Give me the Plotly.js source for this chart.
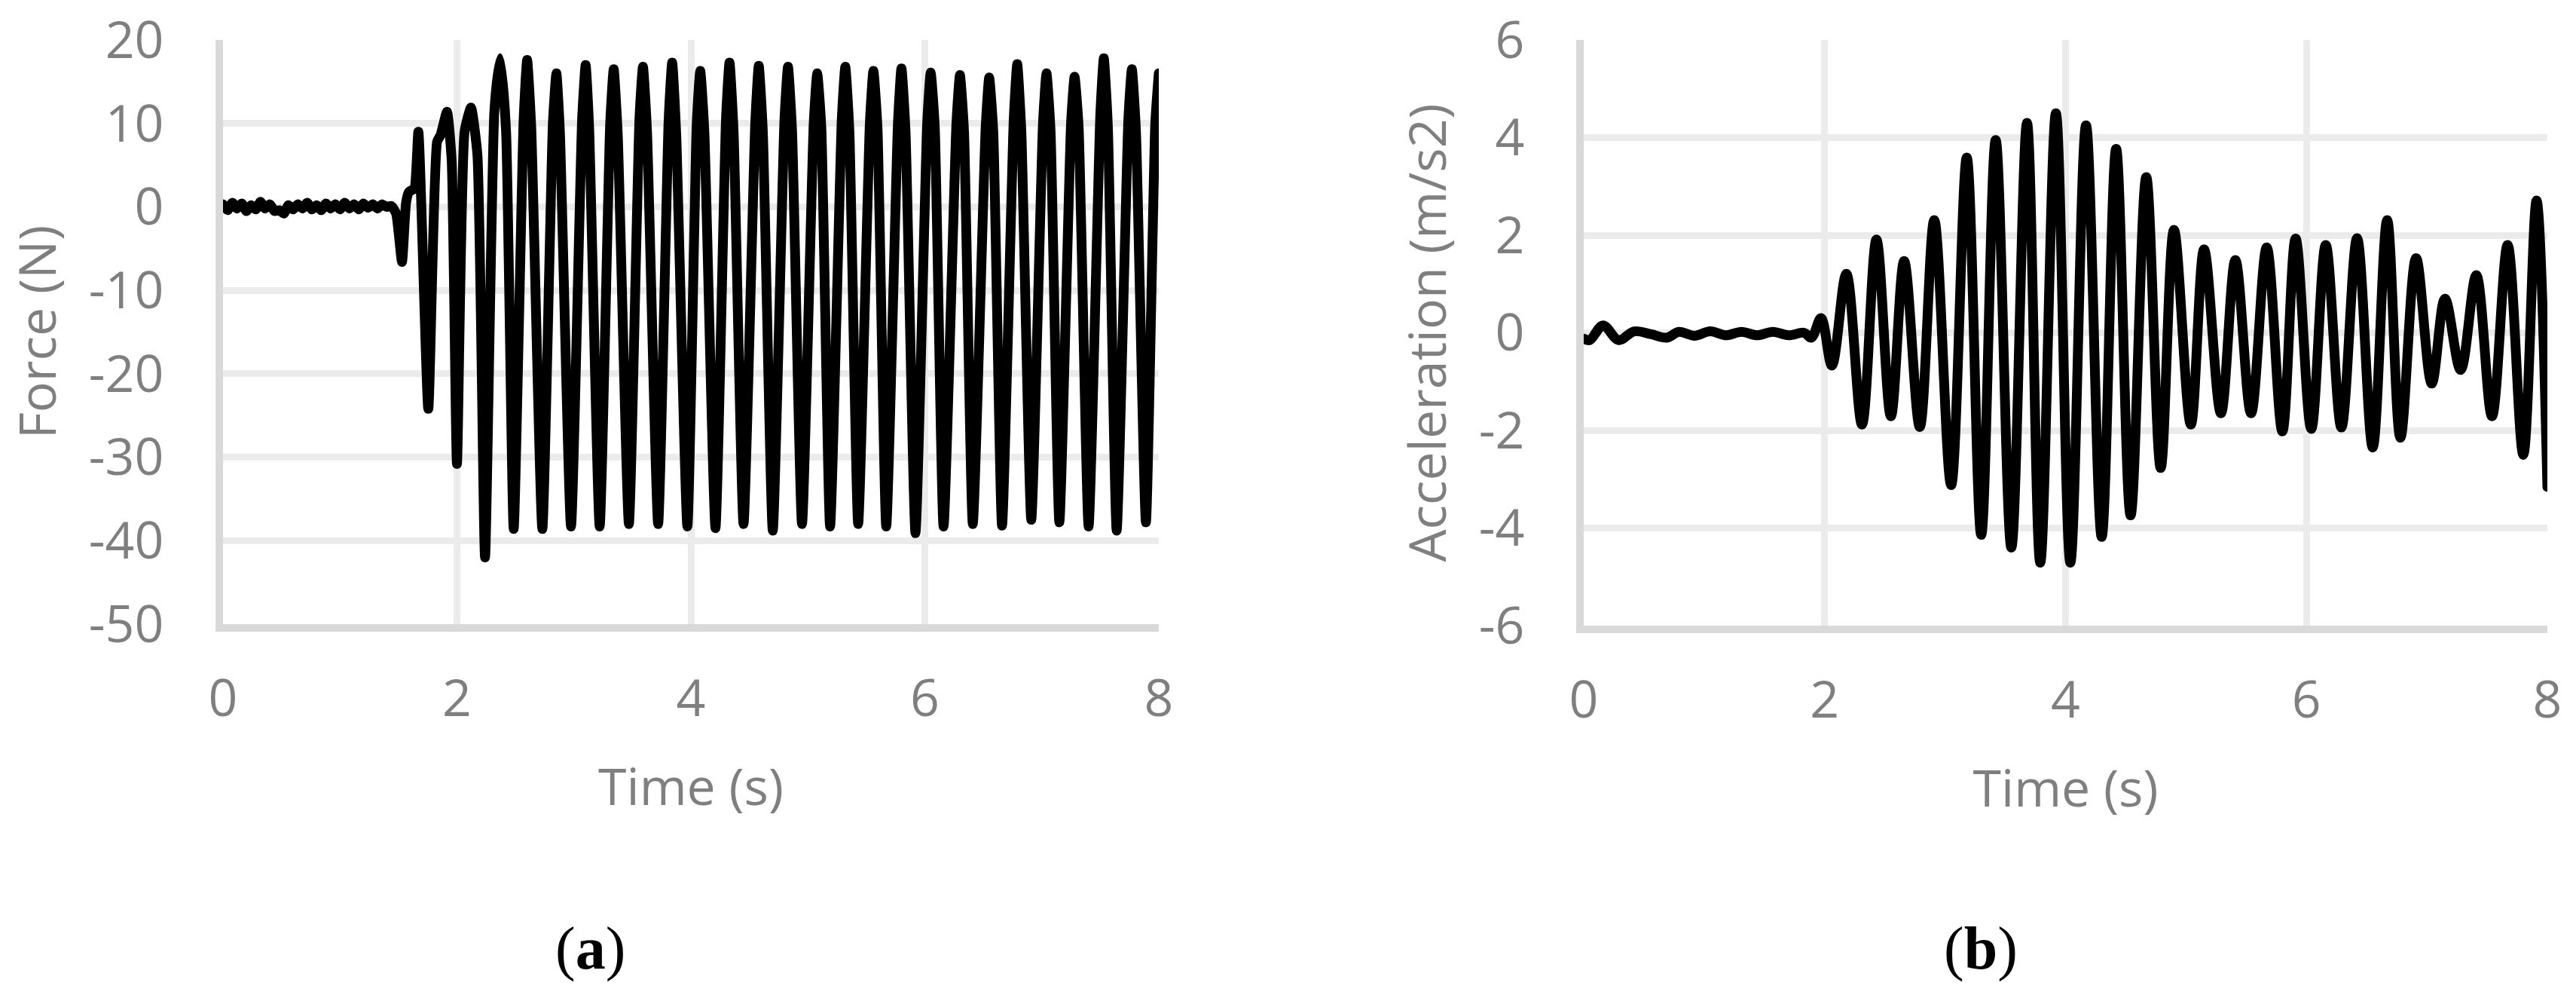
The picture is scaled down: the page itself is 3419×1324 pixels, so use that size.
<!DOCTYPE html>
<html>
<head>
<meta charset="utf-8">
<script src="https://cdn.plot.ly/plotly-3.0.1.min.js"></script>
<style>
  html, body { margin: 0; padding: 0; background: #ffffff; }
  #chart { width: 3419px; height: 1324px; }
  .scatterlayer .js-line { stroke-linejoin: round !important; stroke-linecap: round !important; }
</style>
</head>
<body>
<div id="chart"></div>
<script>
// ---------- Panel (a): Force vs time ----------
const forceTime = [
  0.00,0.04,0.08,0.12,0.16,0.20,0.24,0.28,0.32,0.36,0.40,0.44,0.48,0.52,0.56,0.60,0.64,0.68,0.72,0.76,
  0.80,0.84,0.88,0.92,0.96,1.00,1.04,1.08,1.12,1.16,1.20,1.24,1.28,1.32,1.36,1.40,1.44,
  1.48,1.53,1.565,1.59,1.635,1.67,1.755,1.83,1.86,1.915,1.955,2.00,2.065,2.12,2.175,2.24,
  2.32,2.37,2.42,2.485,
  2.57,2.60,2.635,2.73,
  2.82,2.85,2.88,2.975,
  3.07,3.10,3.13,3.22,
  3.31,3.34,3.375,3.47,
  3.56,3.59,3.625,3.72,
  3.81,3.84,3.875,3.97,
  4.05,4.08,4.115,4.21,
  4.30,4.33,4.365,4.45,
  4.55,4.58,4.615,4.70,
  4.80,4.83,4.865,4.95,
  5.05,5.08,5.115,5.19,
  5.29,5.32,5.355,5.43,
  5.53,5.56,5.595,5.67,
  5.77,5.80,5.835,5.92,
  6.02,6.05,6.085,6.16,
  6.27,6.30,6.335,6.41,
  6.52,6.55,6.585,6.66,
  6.76,6.79,6.825,6.91,
  7.01,7.04,7.075,7.15,
  7.25,7.28,7.315,7.40,
  7.50,7.53,7.565,7.64,
  7.74,7.77,7.805,7.89,
  7.97,8.00
];
const forceValues = [
  0.3,-0.4,0.5,-0.2,0.4,-0.5,0.2,-0.3,0.6,-0.2,0.3,-0.5,-0.4,-0.8,0.2,-0.3,0.3,-0.2,0.5,-0.3,
  0.2,-0.4,0.4,-0.2,0.3,-0.3,0.5,-0.2,0.3,-0.3,0.4,-0.1,0.3,-0.2,0.3,0.0,0.1,
  -0.8,-6.6,0.5,1.8,2.2,9.0,-24.2,7.8,8.6,11.4,5.5,-30.8,9.0,11.9,6.2,-42.0,
  11.5,17.8,9.0,-38.6,
  10.5,17.6,9.5,-38.6,
  10.0,16.0,9.0,-38.3,
  10.5,17.0,9.5,-38.3,
  10.0,16.5,8.5,-38.0,
  10.5,16.8,9.0,-38.0,
  10.5,17.3,8.5,-38.3,
  10.0,16.3,9.0,-38.5,
  10.5,17.3,9.0,-38.0,
  10.0,16.9,9.0,-38.8,
  10.5,16.8,9.0,-38.0,
  10.0,16.0,9.5,-38.3,
  10.5,16.8,9.0,-38.0,
  10.0,16.3,9.5,-38.3,
  10.0,16.6,9.0,-39.1,
  10.0,16.1,9.5,-38.3,
  10.0,15.8,9.0,-38.0,
  9.5,15.5,9.0,-38.2,
  10.5,17.1,9.0,-37.5,
  10.0,16.0,9.0,-37.8,
  10.0,15.6,9.5,-38.3,
  11.0,17.8,9.5,-38.8,
  10.5,16.5,9.0,-37.8,
  10.0,16.0
];

// ---------- Panel (b): Acceleration vs time ----------
const accTime = [
  0.00,0.05,0.16,0.29,0.42,0.56,0.69,0.79,0.92,1.05,1.18,1.31,1.44,1.57,1.70,1.83,1.89,
  1.97,2.06,2.18,2.31,2.43,2.55,2.66,2.79,2.91,3.05,3.18,3.30,3.42,3.55,3.68,3.79,3.92,
  4.04,4.17,4.30,4.42,4.54,4.67,4.79,4.90,5.04,5.15,5.29,5.41,5.54,5.67,5.80,5.91,6.04,
  6.16,6.29,6.42,6.55,6.67,6.78,6.91,7.04,7.15,7.28,7.41,7.54,7.67,7.80,7.91,8.00
];
const accValues = [
  -0.12,-0.15,0.15,-0.15,0.03,-0.03,-0.10,0.02,-0.06,0.03,-0.05,0.02,-0.05,0.02,-0.05,0.00,-0.10,
  0.30,-0.67,1.21,-1.88,1.91,-1.71,1.47,-1.93,2.31,-3.12,3.59,-4.14,3.95,-4.40,4.30,-4.71,4.50,
  -4.71,4.25,-4.18,3.77,-3.74,3.19,-2.77,2.11,-1.88,1.71,-1.65,1.49,-1.65,1.75,-2.02,1.93,-1.97,
  1.80,-1.94,1.94,-2.35,2.31,-2.15,1.53,-1.04,0.70,-0.76,1.18,-1.71,1.80,-2.50,2.71,-3.16
];

// ---------- Tick labels & titles ----------
const timeTicks = [0, 2, 4, 6, 8];
const timeTickText = ['0', '2', '4', '6', '8'];
const forceTicks = [-50, -40, -30, -20, -10, 0, 10, 20];
const forceTickText = ['-50', '-40', '-30', '-20', '-10', '0', '10', '20'];
const accTicks = [-6, -4, -2, 0, 2, 4, 6];
const accTickText = ['-6', '-4', '-2', '0', '2', '4', '6'];
const panelLabels = ['(<b>a</b>)', '(<b>b</b>)'];

const W = 3419, H = 1324;
const labelFont = { family: 'Open Sans, Noto Sans, sans-serif', size: 68, color: '#7f7f7f' };
const gridColor = '#ebebeb';
const lineColor = '#d9d9d9';

function xAxis(domain, anchor) {
  return {
    domain: domain, anchor: anchor, range: [0, 8],
    tickmode: 'array', tickvals: timeTicks, ticktext: timeTickText,
    showgrid: true, gridcolor: gridColor, gridwidth: 9,
    showline: true, linecolor: lineColor, linewidth: 10,
    zeroline: false, ticks: '', tickfont: labelFont,
    ticklabelstandoff: 30,
    title: { text: 'Time (s)', font: labelFont, standoff: 56 },
    fixedrange: true
  };
}
function yAxis(domain, anchor, range, vals, text, title) {
  return {
    domain: domain, anchor: anchor, range: range,
    tickmode: 'array', tickvals: vals, ticktext: text,
    showgrid: true, gridcolor: gridColor, gridwidth: 9,
    showline: true, linecolor: lineColor, linewidth: 10,
    zeroline: false, ticks: '', tickfont: labelFont,
    ticklabelstandoff: 55,
    title: { text: title, font: labelFont, standoff: 25 },
    fixedrange: true
  };
}

const traces = [
  { x: forceTime, y: forceValues, type: 'scatter', mode: 'lines', xaxis: 'x', yaxis: 'y',
    line: { color: '#000000', width: 13, shape: 'spline', smoothing: 0.5 }, hoverinfo: 'skip', showlegend: false },
  { x: accTime, y: accValues, type: 'scatter', mode: 'lines', xaxis: 'x2', yaxis: 'y2',
    line: { color: '#000000', width: 13, shape: 'spline', smoothing: 1 }, hoverinfo: 'skip', showlegend: false }
];

const layout = {
  width: W, height: H,
  margin: { l: 0, r: 0, t: 0, b: 0 },
  paper_bgcolor: '#ffffff', plot_bgcolor: '#ffffff',
  font: labelFont,
  showlegend: false,
  xaxis: xAxis([296 / W, 1538 / W], 'y'),
  yaxis: yAxis([(H - 828) / H, (H - 53) / H], 'x', [-50, 20], forceTicks, forceTickText, 'Force (N)'),
  xaxis2: xAxis([2102 / W, 3381 / W], 'y2'),
  yaxis2: yAxis([(H - 830) / H, (H - 53) / H], 'x2', [-6, 6], accTicks, accTickText, 'Acceleration (m/s2)'),
  annotations: [
    { text: panelLabels[0], xref: 'paper', yref: 'paper', x: 783 / W, y: (H - 1258) / H,
      xanchor: 'center', yanchor: 'middle', showarrow: false,
      font: { family: 'Liberation Serif, DejaVu Serif, serif', size: 80, color: '#000000' } },
    { text: panelLabels[1], xref: 'paper', yref: 'paper', x: 2629 / W, y: (H - 1258) / H,
      xanchor: 'center', yanchor: 'middle', showarrow: false,
      font: { family: 'Liberation Serif, DejaVu Serif, serif', size: 80, color: '#000000' } }
  ]
};

Plotly.newPlot('chart', traces, layout, { staticPlot: true, displayModeBar: false });
</script>
</body>
</html>
